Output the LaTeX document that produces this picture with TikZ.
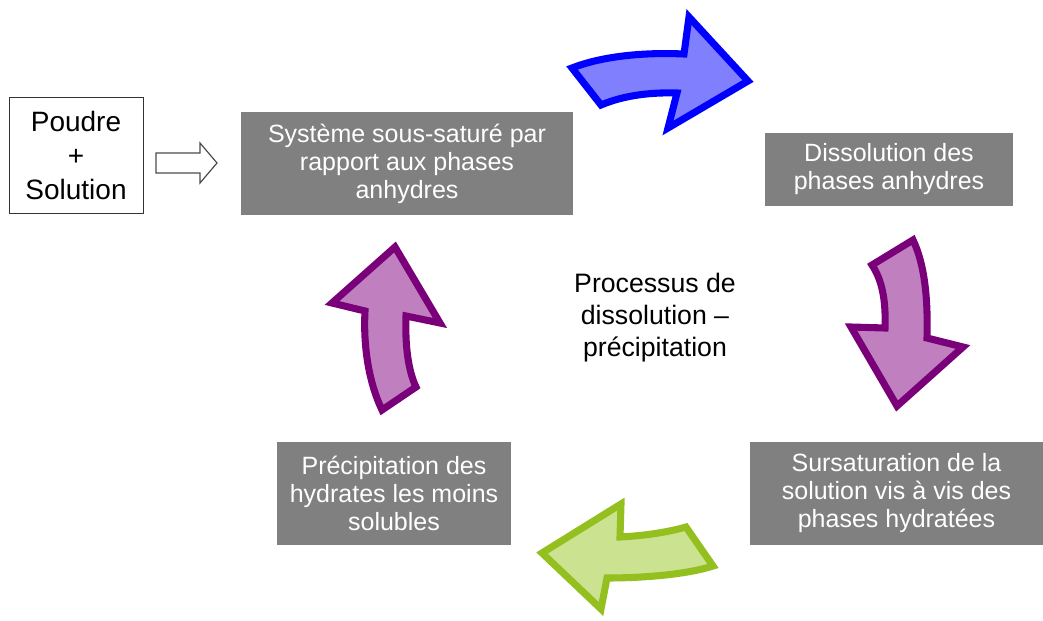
\documentclass[tikz,border=0pt]{standalone}
\usepackage{fontspec}
\setmainfont{Liberation Sans}
\usetikzlibrary{calc}
\definecolor{boxgray}{RGB}{128,128,128}
\definecolor{bleuF}{RGB}{128,128,255}
\definecolor{bleuT}{RGB}{0,0,255}
\definecolor{violetF}{RGB}{192,128,192}
\definecolor{violetT}{RGB}{122,0,122}
\definecolor{vertF}{RGB}{203,226,145}
\definecolor{vertT}{RGB}{147,192,31}

\begin{document}
\begin{tikzpicture}[x=0.75pt,y=-0.75pt,
  etape/.style={fill=boxgray, text=white, align=center, inner sep=0pt,
    font=\fontsize{18.75}{21}\selectfont},
  fleche/.style={line width=5.3pt, line join=miter}]
\useasboundingbox (0,0) rectangle (1043,621);
% the starting box
\node[draw=black!80, line width=0.75pt, minimum width=100.5pt, minimum height=87pt,
  align=center, inner sep=0pt, font=\fontsize{21}{25.5}\selectfont] (poudre) at (76,155)
  {Poudre\\+\\Solution};
\draw[black!70, line width=0.9pt, fill=white] (156,153) -- (200,153) -- (200,143) -- (217,163)
  -- (200,183) -- (200,173) -- (156,173) -- cycle;
% the four steps
\node[etape, minimum width=249pt, minimum height=77.25pt] (sys) at (407,163.5)
  {Système sous-saturé par\\rapport aux phases\\anhydres};
\node[etape, minimum width=186pt, minimum height=54.75pt] (dis) at (889,169.5)
  {Dissolution des\\phases anhydres};
\node[etape, minimum width=219.75pt, minimum height=77.25pt] (sur) at (896.5,493.5)
  {Sursaturation de la\\solution vis à vis des\\phases hydratées};
\node[etape, minimum width=175.5pt, minimum height=77.25pt] (pre) at (394,493.5)
  {Précipitation des\\hydrates les moins\\solubles};
% centre
\node[align=center, inner sep=0pt, font=\fontsize{20}{24}\selectfont] (proc) at (655,318)
  {Processus de\\dissolution –\\précipitation};
% the curved arrows
%     top (blue)
\draw[fleche, draw=bleuT, fill=bleuF] (572,68) .. controls (600,57) and (640,52) .. (684,54)
  -- (689,17) -- (748,81) -- (668,128) -- (677,93)
  .. controls (645,92) and (620,97) .. (601,105) -- cycle;
%     right (purple)
\draw[fleche, draw=violetT, fill=violetF] (872,265) -- (913,240)
  .. controls (925,265) and (928,300) .. (927,338)
  -- (963,347) -- (897,406) -- (851,327) -- (885,328)
  .. controls (886,300) and (882,280) .. (872,265) -- cycle;
%     bottom (green)
\draw[fleche, draw=vertT, fill=vertF] (686,527) .. controls (665,533) and (640,536) .. (620,537)
  -- (621,504) -- (542,553) -- (601,609) -- (607,578)
  .. controls (640,578) and (685,575) .. (713,566) -- cycle;
%     left (purple)
\draw[fleche, draw=violetT, fill=violetF] (382,410) -- (416,387)
  .. controls (408,370) and (405,345) .. (406,316)
  -- (440,323) -- (395,247) -- (332,303) -- (365,311)
  .. controls (363,350) and (370,385) .. (382,410) -- cycle;
\end{tikzpicture}
\end{document}
